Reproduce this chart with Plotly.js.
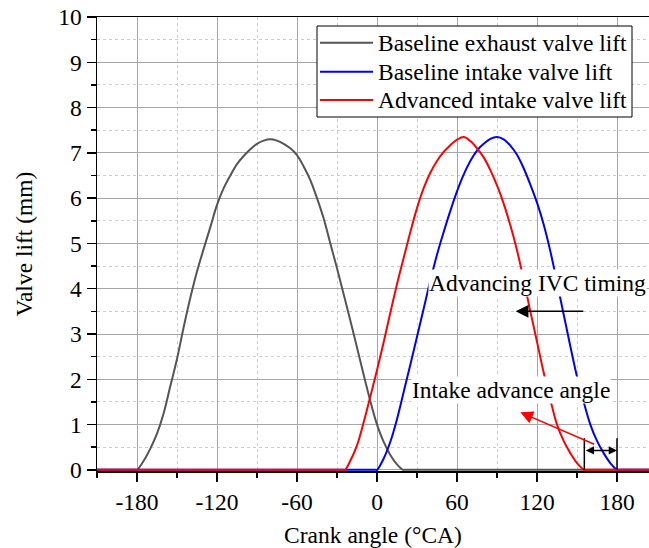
<!DOCTYPE html>
<html>
<head>
<meta charset="utf-8">
<script src="https://cdn.plot.ly/plotly-3.0.1.min.js"></script>
<style>
  html, body { margin: 0; padding: 0; background: #ffffff; }
  #plot { width: 649px; height: 548px; }
</style>
</head>
<body>
<div id="plot"></div>
<script>
// Valve lift profiles (crank angle in °CA, lift in mm)
const exhaustAngle = [-210, -181, -180, -175, -170, -165, -160, -155, -150, -145, -140, -135, -130, -125, -120, -115, -110,
                      -105, -100, -95, -90, -85, -80, -75, -70, -65, -60, -55, -50, -45, -40, -35, -30, -25, -20,
                      -15, -10, -5, 0, 5, 10, 15, 19.5, 20.5, 204];
const exhaustLift  = [0, 0, 0, 0.2, 0.47, 0.8, 1.25, 1.85, 2.45, 3.15, 3.8, 4.38, 4.88, 5.36, 5.85, 6.22, 6.5,
                      6.75, 6.93, 7.08, 7.2, 7.27, 7.3, 7.27, 7.2, 7.1, 6.95, 6.7, 6.4, 6.0, 5.55, 5.0, 4.45, 3.88, 3.3,
                      2.7, 2.1, 1.52, 1.0, 0.62, 0.33, 0.12, 0, 0, 0];

const baseIntakeAngle = [-210, -1, 0, 5, 10, 15, 20, 25, 30, 35, 40, 45, 50, 55, 60, 65, 70, 75, 80, 85, 90,
                         95, 100, 105, 110, 115, 120, 125, 130, 135, 140, 145, 150, 155, 160, 165, 170, 175, 180, 181, 204];
const baseIntakeLift  = [0, 0, 0, 0.25, 0.62, 1.12, 1.72, 2.32, 2.94, 3.56, 4.18, 4.75, 5.25, 5.72, 6.15, 6.52, 6.82, 7.05, 7.2, 7.31, 7.35,
                         7.3, 7.16, 6.96, 6.66, 6.3, 5.9, 5.42, 4.83, 4.14, 3.43, 2.73, 2.06, 1.5, 1.0, 0.64, 0.37, 0.15, 0, 0, 0];

const advIntakeAngle = [-210, -25, -24, -20, -15, -10, -5, 0, 5, 10, 15, 20, 25, 30, 35, 40, 45, 50, 55, 60, 65,
                        70, 75, 80, 85, 90, 95, 100, 105, 110, 115, 120, 125, 130, 135, 140, 145, 150, 155.5, 156.5, 204];
const advIntakeLift  = [0, 0, 0, 0.2, 0.54, 1.05, 1.62, 2.2, 2.82, 3.47, 4.1, 4.68, 5.25, 5.78, 6.22, 6.56, 6.82, 7.02, 7.17, 7.29, 7.35,
                        7.26, 7.1, 6.9, 6.62, 6.28, 5.88, 5.4, 4.85, 4.2, 3.5, 2.83, 2.15, 1.55, 1.0, 0.64, 0.37, 0.15, 0, 0, 0];

const seriesNames  = ['Baseline exhaust valve lift', 'Baseline intake valve lift', 'Advanced intake valve lift'];
const seriesColors = ['#555555', '#0000ff', '#ff0000'];

// Intake valve closing angles (baseline / advanced)
const ivcBaseline = 180;
const ivcAdvanced = 155.5;

const xTickVals = [-180, -120, -60, 0, 60, 120, 180];
const xTickText = ['-180', '-120', '-60', '0', '60', '120', '180'];

const FONT = '"Liberation Serif", "Times New Roman", Times, serif';
const FS = 23.5;

const series = [
  [exhaustAngle, exhaustLift],
  [baseIntakeAngle, baseIntakeLift],
  [advIntakeAngle, advIntakeLift]
];

const traces = series.map(([x, y], i) => ({
  x: x, y: y, name: seriesNames[i], mode: 'lines', showlegend: false,
  line: { color: seriesColors[i], width: 2, shape: 'spline', smoothing: 1 }
}));

// Plot-area pixel helpers for the boxed key (plot spans 97..649 x 17..471)
const px = v => (v - 97) / 552;
const py = v => (471 - v) / 454;

const keyRows = [42.7, 71.7, 100];

const keyShapes = [
  { type: 'rect', xref: 'paper', yref: 'paper', x0: px(317), x1: px(632), y0: py(117), y1: py(26),
    fillcolor: '#ffffff', line: { color: '#000000', width: 1 }, layer: 'above' }
].concat(seriesNames.map((_, i) => ({
  type: 'line', xref: 'paper', yref: 'paper', x0: px(320), x1: px(373), y0: py(keyRows[i]), y1: py(keyRows[i]),
  line: { color: seriesColors[i], width: 2 }, layer: 'above'
})));

const keyLabels = seriesNames.map((name, i) => ({
  xref: 'paper', yref: 'paper', x: px(376), y: py(keyRows[i]), xanchor: 'left', yanchor: 'middle',
  text: name, showarrow: false, font: { family: FONT, size: FS, color: '#000000' }
}));

const layout = {
  width: 649,
  height: 548,
  margin: { l: 97, r: 0, t: 17, b: 77 },
  paper_bgcolor: '#ffffff',
  plot_bgcolor: '#ffffff',
  font: { family: FONT, size: FS, color: '#000000' },
  showlegend: false,
  xaxis: {
    range: [-210, 204],
    tickmode: 'array', tickvals: xTickVals, ticktext: xTickText,
    ticks: 'outside', ticklen: 9, tickwidth: 1.5, tickcolor: '#000000',
    showline: true, linecolor: '#000000', linewidth: 1.5, mirror: true,
    showgrid: true, gridcolor: '#a6a6a6', gridwidth: 1,
    zeroline: false,
    layer: 'below traces',
    minor: { tickmode: 'linear', tick0: 0, dtick: 30, ticks: 'outside', ticklen: 5,
             tickwidth: 1.5, tickcolor: '#000000', showgrid: true,
             gridcolor: '#cccccc', griddash: 'dot', gridwidth: 1 },
    title: { text: 'Crank angle (°CA)', font: { family: FONT, size: FS }, standoff: 15 },
    tickfont: { family: FONT, size: FS }
  },
  yaxis: {
    range: [-0.025, 10],
    tickmode: 'linear', tick0: 0, dtick: 1,
    ticks: 'outside', ticklen: 9, tickwidth: 1.5, tickcolor: '#000000',
    showline: true, linecolor: '#000000', linewidth: 1.5,
    showgrid: true, gridcolor: '#a6a6a6', gridwidth: 1,
    zeroline: false,
    layer: 'below traces',
    minor: { tickmode: 'linear', tick0: 0, dtick: 0.5, ticks: 'outside', ticklen: 5,
             tickwidth: 1.5, tickcolor: '#000000', showgrid: true,
             gridcolor: '#cccccc', griddash: 'dot', gridwidth: 1 },
    title: { text: 'Valve lift (mm)', font: { family: FONT, size: FS }, standoff: 19 },
    tickfont: { family: FONT, size: FS }
  },
  shapes: [
    // closing-angle markers for the advance-angle dimension
    { type: 'line', xref: 'x', yref: 'y', x0: ivcAdvanced, x1: ivcAdvanced, y0: 0, y1: 0.7,
      line: { color: '#000000', width: 1.5 } },
    { type: 'line', xref: 'x', yref: 'y', x0: ivcBaseline, x1: ivcBaseline, y0: 0, y1: 0.7,
      line: { color: '#000000', width: 1.5 } }
  ].concat(keyShapes),
  annotations: [
    { x: 120.2, y: 4.12, xref: 'x', yref: 'y', text: 'Advancing IVC timing', showarrow: false,
      bgcolor: '#ffffff', borderpad: 0, font: { family: FONT, size: FS, color: '#000000' } },
    { x: 100.3, y: 1.76, xref: 'x', yref: 'y', text: 'Intake advance angle', showarrow: false,
      bgcolor: '#ffffff', borderpad: 0, font: { family: FONT, size: FS, color: '#000000' } },
    // IVC shift arrow
    { x: 104, y: 3.5, ax: 155.8, ay: 3.5, xref: 'x', yref: 'y', axref: 'x', ayref: 'y',
      text: '', showarrow: true, arrowhead: 2, arrowsize: 1.7, arrowwidth: 1.5,
      arrowcolor: '#000000', standoff: 0, startstandoff: 0 },
    // pointer to the advance angle
    { x: 107.5, y: 1.27, ax: 164, ay: 0.55, xref: 'x', yref: 'y', axref: 'x', ayref: 'y',
      text: '', showarrow: true, arrowhead: 2, arrowsize: 1.7, arrowwidth: 1.5,
      arrowcolor: '#ff0000', standoff: 0, startstandoff: 0 },
    // advance angle dimension
    { x: ivcBaseline, y: 0.43, ax: ivcAdvanced, ay: 0.43, xref: 'x', yref: 'y', axref: 'x', ayref: 'y',
      text: '', showarrow: true, arrowhead: 2, startarrowhead: 2, arrowside: 'end+start',
      arrowsize: 1.1, startarrowsize: 1.1, arrowwidth: 1.5,
      arrowcolor: '#000000', standoff: 0, startstandoff: 0 }
  ].concat(keyLabels)
};

Plotly.newPlot('plot', traces, layout, { displayModeBar: false, staticPlot: true });
</script>
</body>
</html>
